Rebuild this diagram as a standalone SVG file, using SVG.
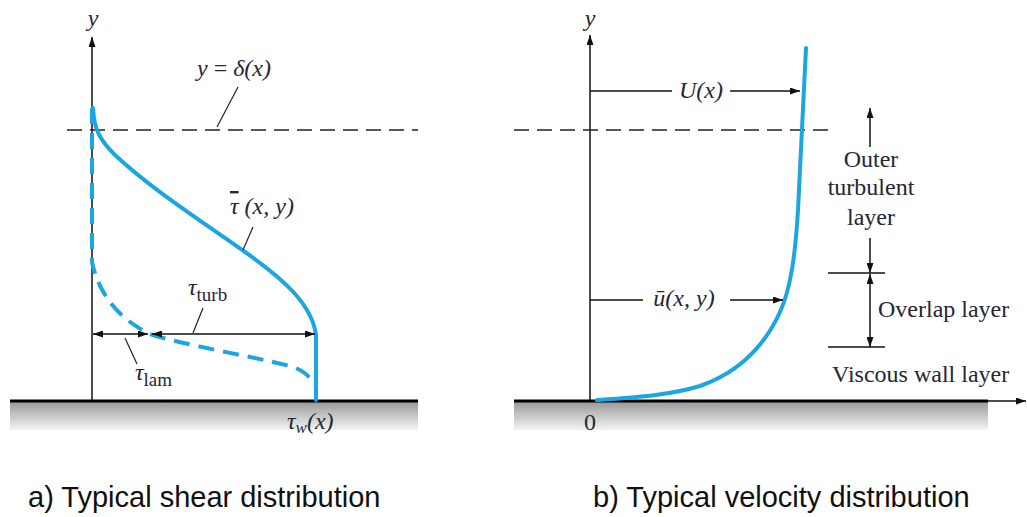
<svg xmlns="http://www.w3.org/2000/svg" width="1027" height="517" viewBox="0 0 1027 517">
<style>
.ax{stroke:#111;stroke-width:1.5;fill:none}
.thin{stroke:#222;stroke-width:1.2;fill:none}
.dash{stroke:#222;stroke-width:1.6;stroke-dasharray:15 8;fill:none}
.ground{stroke:#000;stroke-width:3;fill:none}
.blue{stroke:#1ba6e2;stroke-width:4;fill:none;stroke-linecap:round}
.bdash{stroke:#1ba6e2;stroke-width:4;fill:none;stroke-dasharray:16 9}
.m{font-family:"Liberation Serif",serif;font-style:italic;font-size:24px;fill:#262637}
.r{font-family:"Liberation Serif",serif;font-size:24px;fill:#262637}
.cap{font-family:"Liberation Sans",Arial,sans-serif;font-size:29px;fill:#111}
</style>
<defs>
<marker id="ah" viewBox="0 0 10 7" refX="10" refY="3.5" markerWidth="10" markerHeight="7" markerUnits="userSpaceOnUse" orient="auto-start-reverse">
<path d="M0,0 L10,3.5 L0,7 z" fill="#111"/>
</marker>
<linearGradient id="gr" x1="0" y1="0" x2="0" y2="1">
<stop offset="0" stop-color="#9a9a9a"/>
<stop offset="1" stop-color="#f4f4f4"/>
</linearGradient>
</defs>

<g id="panel-a">
<g id="wall-a">
<rect x="10" y="402" width="408" height="28" fill="url(#gr)"/>
<line class="ground" x1="10" y1="401" x2="418" y2="401"/>
</g>
<g id="axis-a">
<line class="ax" x1="92" y1="400" x2="92" y2="37" marker-end="url(#ah)"/>
<text class="m" x="93" y="26" text-anchor="middle" font-size="22">y</text>
</g>
<g id="delta-line">
<line class="dash" x1="67" y1="130" x2="418" y2="130"/>
<text class="m" x="234" y="76" text-anchor="middle" font-size="25">y <tspan font-style="normal">=</tspan> δ(x)</text>
</g>
<g id="tau-total">
<path class="blue" d="M93,108 C94,130 100,140 115,155 C150,188 200,220 245,252 C285,280 312,305 316,335 L316,400"/>
<text class="m" x="230" y="214" font-size="25"><tspan text-decoration="overline">τ</tspan> (x, y)</text>
</g>
<g id="tau-lam-curve">
<path class="bdash" d="M92,108 L92,262 C100,300 125,322 150,334 C175,343 250,356 290,366 C303,370 311,377 314,385"/>
</g>
<g id="tau-turb-label">
<text class="m" x="188" y="295" font-size="26">τ<tspan font-style="normal" font-size="19" dy="6">turb</tspan></text>
</g>
<g id="tau-lam-label">
<text class="m" x="135" y="380" font-size="26">τ<tspan font-style="normal" font-size="19" dy="6">lam</tspan></text>
</g>
<g id="tau-w-label">
<text class="m" x="287" y="429" font-size="25">τ<tspan font-size="17" dy="4">w</tspan><tspan dy="-4">(x)</tspan></text>
</g>
</g>

<g id="panel-b">
<g id="wall-b">
<rect x="514" y="402" width="474" height="28" fill="url(#gr)"/>
<line class="ground" x1="514" y1="401" x2="988" y2="401"/>
<text class="r" x="590" y="430" text-anchor="middle" font-size="21">0</text>
</g>
<g id="axis-b">
<line class="ax" x1="590" y1="400" x2="590" y2="35" marker-end="url(#ah)"/>
<text class="m" x="590" y="26" text-anchor="middle" font-size="22">y</text>
</g>
<g id="delta-line-b">
<line class="dash" x1="514" y1="130" x2="831" y2="130"/>
</g>
<g id="velocity-curve">
<path class="blue" d="M806,48 L798,210 C795,260 790,290 780,312 C765,345 740,372 700,386 C670,395 640,397 597,400"/>
</g>
<g id="U-label">
<text class="m" x="701" y="98" text-anchor="middle">U(x)</text>
</g>
<g id="u-label">
<text class="m" x="684" y="306" text-anchor="middle">ū(x, y)</text>
</g>
<g id="outer-layer">
<text class="r" x="871" y="167" text-anchor="middle">Outer</text>
<text class="r" x="871" y="195" text-anchor="middle">turbulent</text>
<text class="r" x="871" y="225" text-anchor="middle">layer</text>
</g>
<g id="overlap-layer">
<text class="r" x="878" y="317">Overlap layer</text>
</g>
<g id="viscous-layer">
<text class="r" x="832" y="382">Viscous wall layer</text>
</g>
</g>

<g id="connectors">
<line class="thin" x1="238" y1="87" x2="217" y2="127"/>
<line class="thin" x1="253" y1="227" x2="243" y2="250"/>
<line class="thin" x1="203" y1="308" x2="193" y2="333"/>
<line class="thin" x1="125" y1="338" x2="137" y2="364"/>
<line class="ax" x1="93" y1="334" x2="148" y2="334" marker-start="url(#ah)" marker-end="url(#ah)"/>
<line class="ax" x1="152" y1="334" x2="315" y2="334" marker-start="url(#ah)" marker-end="url(#ah)"/>
<line class="ax" x1="590" y1="91" x2="672" y2="91"/>
<line class="ax" x1="730" y1="91" x2="800" y2="91" marker-end="url(#ah)"/>
<line class="ax" x1="590" y1="300" x2="643" y2="300"/>
<line class="ax" x1="730" y1="300" x2="783" y2="300" marker-end="url(#ah)"/>
<line class="ax" x1="870" y1="147" x2="870" y2="108" marker-end="url(#ah)"/>
<line class="ax" x1="870" y1="238" x2="870" y2="273" marker-end="url(#ah)"/>
<line class="ax" x1="870" y1="274" x2="870" y2="347" marker-start="url(#ah)" marker-end="url(#ah)"/>
<line class="ax" x1="828" y1="273" x2="885" y2="273"/>
<line class="ax" x1="828" y1="347" x2="885" y2="347"/>
<line class="ax" x1="988" y1="401" x2="1026" y2="401" marker-end="url(#ah)"/>
</g>

<text class="cap" x="28" y="507">a) Typical shear distribution</text>
<text class="cap" x="593" y="507">b) Typical velocity distribution</text>
</svg>
